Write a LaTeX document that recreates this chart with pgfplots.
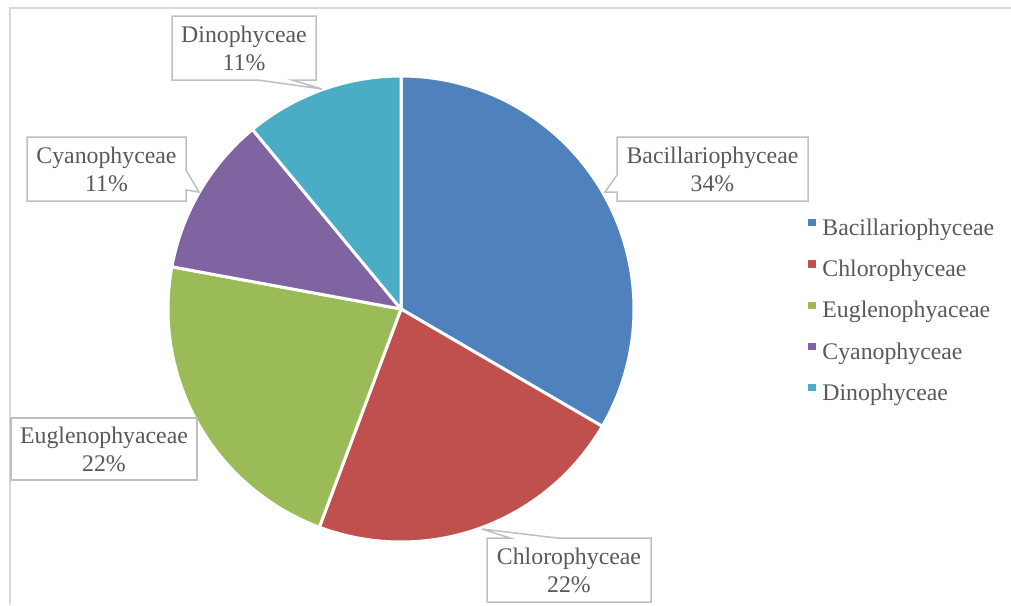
\documentclass[border=0pt]{standalone}
\usepackage{fontspec}
\setmainfont{Liberation Serif}
\usepackage{pgfplots}
\pgfplotsset{compat=1.18}
\definecolor{cA}{HTML}{4F81BD}
\definecolor{cB}{HTML}{C0504D}
\definecolor{cC}{HTML}{9BBB59}
\definecolor{cD}{HTML}{8064A2}
\definecolor{cE}{HTML}{4BACC6}
\definecolor{txt}{HTML}{595959}
\definecolor{bord}{HTML}{BFBFBF}
\definecolor{frm}{HTML}{D9D9D9}
% slice values (share of taxa, %)
\def\vA{33.4}% Bacillariophyceae
\def\vB{22.3}% Chlorophyceae
\def\vC{22.2}% Euglenophyaceae
\def\vD{11.1}% Cyanophyceae
\def\vE{11.0}% Dinophyceae
\pgfmathsetmacro\tot{\vA+\vB+\vC+\vD+\vE}
\pgfmathsetmacro\aA{90}
\pgfmathsetmacro\aB{\aA-360*\vA/\tot}
\pgfmathsetmacro\aC{\aB-360*\vB/\tot}
\pgfmathsetmacro\aD{\aC-360*\vC/\tot}
\pgfmathsetmacro\aE{\aD-360*\vD/\tot}
\pgfmathsetmacro\aF{\aE-360*\vE/\tot}
\newcommand\lblfont{\fontsize{11.9}{14}\selectfont}
\pgfplotsset{
  slice/.style={fill=#1, draw=white, line width=1.5pt, line join=round, samples=100, variable=\t,
    legend image code/.code={\path[fill=#1, draw=none] (0pt,1.6pt) rectangle (3.6pt,5.2pt);\path[draw=none, fill=none] (0pt,3pt) -- (7pt,3pt);}},
}
\begin{document}
\begin{tikzpicture}
\useasboundingbox (0,0) rectangle (505.5pt,302.5pt);
\begin{axis}[
  x=0.5pt, y=0.5pt, y dir=reverse,
  xmin=0, xmax=1011, ymin=0, ymax=605,
  hide axis, clip=false,
  legend cell align=left,
  legend style={at={(axis cs:808,218)}, anchor=north west, draw=none, fill=none,
    font=\lblfont, text=txt, inner sep=0pt, row sep=9.5pt, column sep=0pt,
    nodes={inner sep=0pt, text height=8.5pt, text depth=2.6pt}},
]
\addplot[slice=cA, domain=\aB:\aA]
  ({401+233*cos(\t)},{309-233*sin(\t)}) -- (axis cs:401,309) -- cycle;
\addlegendentry{Bacillariophyceae}
\addplot[slice=cB, domain=\aC:\aB]
  ({401+233*cos(\t)},{309-233*sin(\t)}) -- (axis cs:401,309) -- cycle;
\addlegendentry{Chlorophyceae}
\addplot[slice=cC, domain=\aD:\aC]
  ({401+233*cos(\t)},{309-233*sin(\t)}) -- (axis cs:401,309) -- cycle;
\addlegendentry{Euglenophyaceae}
\addplot[slice=cD, domain=\aE:\aD]
  ({401+233*cos(\t)},{309-233*sin(\t)}) -- (axis cs:401,309) -- cycle;
\addlegendentry{Cyanophyceae}
\addplot[slice=cE, domain=\aF:\aE]
  ({401+233*cos(\t)},{309-233*sin(\t)}) -- (axis cs:401,309) -- cycle;
\addlegendentry{Dinophyceae}
% chart frame
\draw[frm, line width=1pt] (axis cs:10,605) -- (axis cs:10,8) -- (axis cs:1011,8);
% callouts
\draw[bord, fill=white, line width=0.75pt] (axis cs:172,16) -- (axis cs:316,16) -- (axis cs:316,80) -- (axis cs:292,80) -- (axis cs:322,89) -- (axis cs:258,80) -- (axis cs:172,80) -- cycle;
\node[font=\lblfont, text=txt, align=center] at (axis cs:244,48) {Dinophyceae\\11\%};
\draw[bord, fill=white, line width=0.75pt] (axis cs:27,137) -- (axis cs:186,137) -- (axis cs:186,170) -- (axis cs:199,192) -- (axis cs:186,190) -- (axis cs:186,201) -- (axis cs:27,201) -- cycle;
\node[font=\lblfont, text=txt, align=center] at (axis cs:106.5,169) {Cyanophyceae\\11\%};
\draw[bord, fill=white, line width=0.75pt] (axis cs:617,137) -- (axis cs:808,137) -- (axis cs:808,201) -- (axis cs:617,201) -- (axis cs:617,192) -- (axis cs:605,192) -- (axis cs:617,175) -- cycle;
\node[font=\lblfont, text=txt, align=center] at (axis cs:712.5,169) {Bacillariophyceae\\34\%};
\draw[bord, fill=white, line width=0.75pt] (axis cs:11,418) -- (axis cs:197,418) -- (axis cs:197,480) -- (axis cs:11,480) -- cycle;
\node[font=\lblfont, text=txt, align=center] at (axis cs:104,449) {Euglenophyaceae\\22\%};
\draw[bord, fill=white, line width=0.75pt] (axis cs:487,538) -- (axis cs:510,538) -- (axis cs:482,529) -- (axis cs:557,538) -- (axis cs:651,538) -- (axis cs:651,602) -- (axis cs:487,602) -- cycle;
\node[font=\lblfont, text=txt, align=center] at (axis cs:569,570) {Chlorophyceae\\22\%};
\end{axis}
\end{tikzpicture}
\end{document}
